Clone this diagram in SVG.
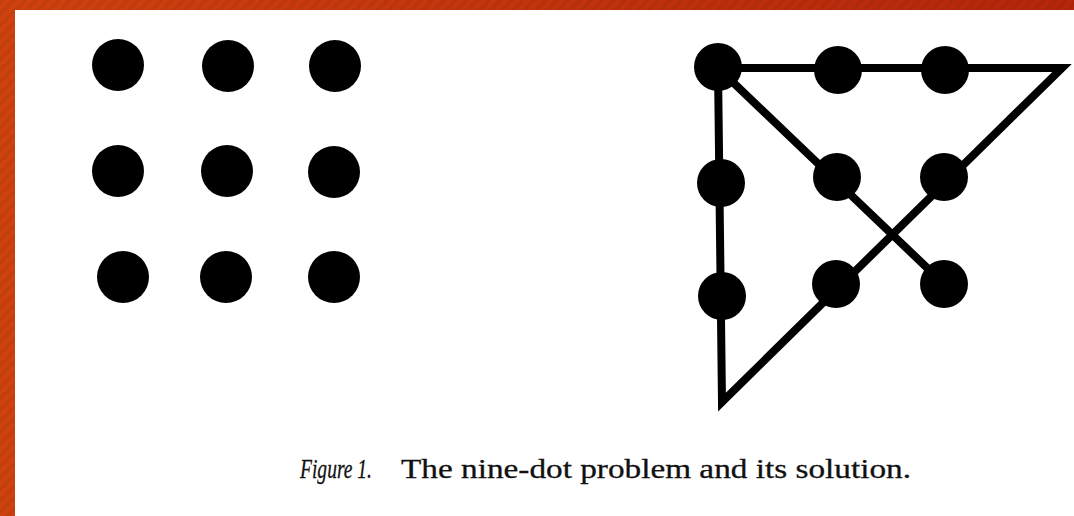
<svg xmlns="http://www.w3.org/2000/svg" width="1074" height="516" viewBox="0 0 1074 516">
<style>
.dot{fill:#000}
.line{fill:none;stroke:#000;stroke-width:8;stroke-linejoin:miter;stroke-linecap:butt;stroke-miterlimit:20}
.cap{font-family:"Liberation Serif","Times New Roman",serif;font-size:27px;fill:#111;stroke:#111;stroke-width:0.3}
.it{font-style:italic}
</style>
<defs>
<linearGradient id="bg" x1="0" y1="0" x2="1" y2="0">
<stop offset="0" stop-color="#cf420f"/>
<stop offset="1" stop-color="#b5260b"/>
</linearGradient>
<pattern id="stripes" width="8" height="8" patternUnits="userSpaceOnUse" patternTransform="rotate(45)">
<rect width="4" height="8" fill="#000" opacity="0.05"/>
</pattern>
</defs>
<rect width="1074" height="516" fill="url(#bg)"/>
<rect width="1074" height="516" fill="url(#stripes)"/>
<rect x="15" y="10" width="1059" height="506" fill="#fff"/>

<g id="problem">
<g id="p11"><circle class="dot" cx="118" cy="65" r="26"/></g>
<g id="p12"><circle class="dot" cx="228" cy="66" r="26"/></g>
<g id="p13"><circle class="dot" cx="335" cy="66" r="26"/></g>
<g id="p21"><circle class="dot" cx="118" cy="171" r="26"/></g>
<g id="p22"><circle class="dot" cx="227" cy="171" r="26"/></g>
<g id="p23"><circle class="dot" cx="334" cy="172" r="26"/></g>
<g id="p31"><circle class="dot" cx="123" cy="277" r="26"/></g>
<g id="p32"><circle class="dot" cx="226" cy="277" r="26"/></g>
<g id="p33"><circle class="dot" cx="334" cy="277" r="26"/></g>
</g>

<g id="connectors">
<path class="line" d="M944,284 L718,68 L1062,68 L722,402 L718,68"/>
</g>

<g id="solution">
<g id="s11"><circle class="dot" cx="718" cy="67" r="24"/></g>
<g id="s12"><circle class="dot" cx="838" cy="70" r="24"/></g>
<g id="s13"><circle class="dot" cx="945" cy="70" r="24"/></g>
<g id="s21"><circle class="dot" cx="721" cy="183" r="24"/></g>
<g id="s22"><circle class="dot" cx="837" cy="177" r="24"/></g>
<g id="s23"><circle class="dot" cx="944" cy="177" r="24"/></g>
<g id="s31"><circle class="dot" cx="722" cy="296" r="24"/></g>
<g id="s32"><circle class="dot" cx="836" cy="284" r="24"/></g>
<g id="s33"><circle class="dot" cx="944" cy="284" r="24"/></g>
</g>

<g id="caption">
<text class="cap it" x="300" y="478" textLength="72" lengthAdjust="spacingAndGlyphs">Figure 1.</text>
<text class="cap" x="401" y="478" textLength="510" lengthAdjust="spacingAndGlyphs">The nine-dot problem and its solution.</text>
</g>
</svg>
